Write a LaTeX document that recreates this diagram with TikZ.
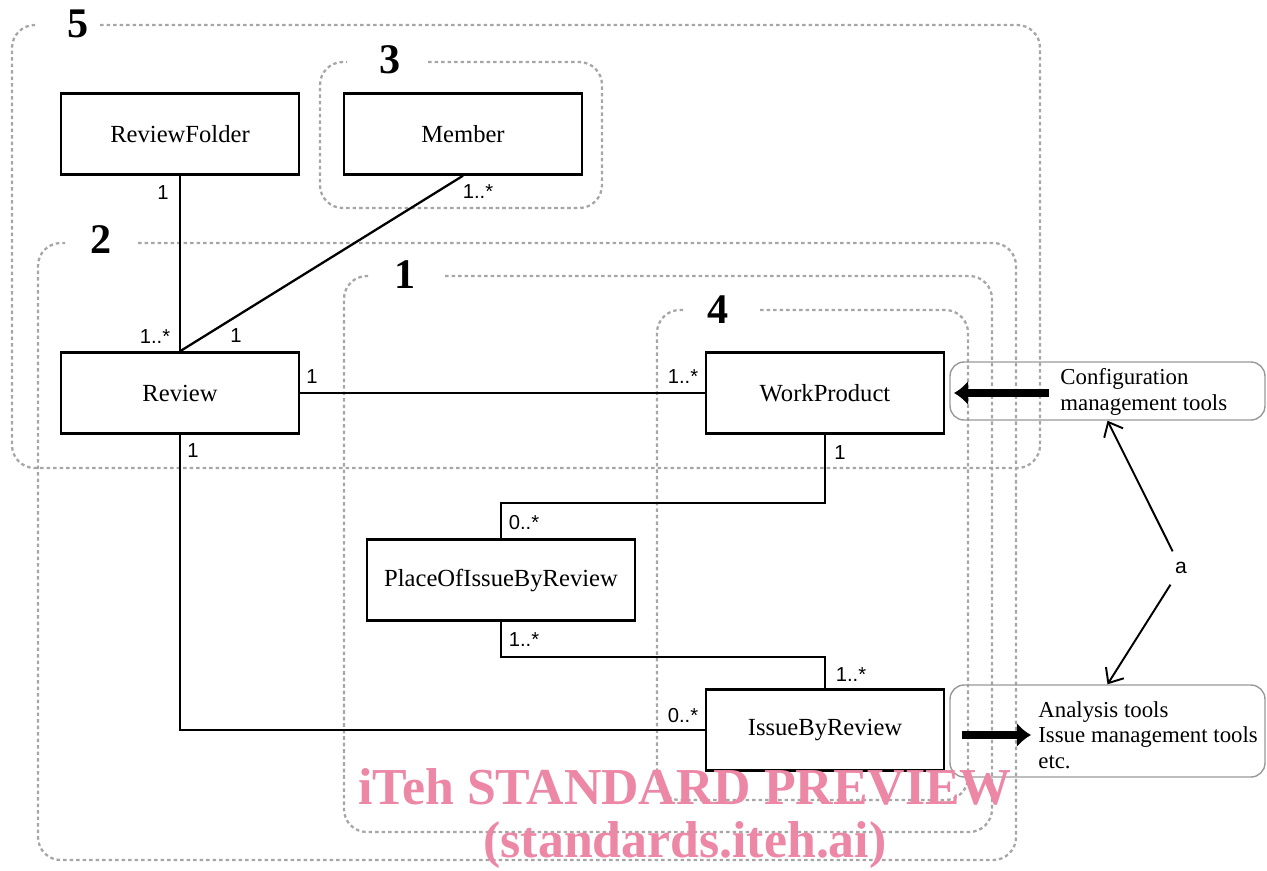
\documentclass[tikz,border=0pt]{standalone}
\usepackage{fontspec}
\setmainfont{Liberation Serif}
\setsansfont{Liberation Sans}
\usetikzlibrary{arrows.meta}

\definecolor{wmpink}{RGB}{236,135,166}

\tikzset{
	cls/.style={draw, line width=1.4pt, minimum width=4.76cm, minimum height=1.62cm, font=\fontsize{14}{16}\selectfont},
	mult/.style={font=\sffamily\fontsize{11.5}{13}\selectfont, inner sep=0pt},
	grp/.style={draw=gray!70, line width=1.3pt, dash pattern=on 2pt off 1.7pt, rounded corners=13pt},
	grpnum/.style={font=\bfseries\fontsize{24}{26}\selectfont},
	tool/.style={draw=gray!80, line width=0.8pt, rounded corners=8pt},
	tooltxt/.style={align=left, anchor=west, inner sep=0pt, font=\fontsize{13}{14.5}\selectfont},
	assoc/.style={line width=1.3pt},
	feed/.style={line width=4.4pt, -{Latex[length=8pt,width=14pt]}},
}

\begin{document}
\begin{tikzpicture}[x=0.02cm, y=-0.02cm]
	\useasboundingbox (0,0) rectangle (1267,870);
	
	% groups
	\draw[grp] (100,25) -- (1040,25) -- (1040,468) -- (12,468) -- (12,25) -- (35,25);
	\node[grpnum] (g5) at (78,24) {5};
	\draw[grp] (428,62) -- (602,62) -- (602,208) -- (320,208) -- (320,62) -- (347,62);
	\node[grpnum] (g3) at (390,60) {3};
	\draw[grp] (138,243) -- (1016,243) -- (1016,860) -- (38,860) -- (38,243) -- (65,243);
	\node[grpnum] (g2) at (101,240) {2};
	\draw[grp] (445,276) -- (992,276) -- (992,832) -- (344,832) -- (344,276) -- (368,276);
	\node[grpnum] (g1) at (405,275) {1};
	\draw[grp] (760,310) -- (968,310) -- (968,800) -- (657,800) -- (657,310) -- (683,310);
	\node[grpnum] (g4) at (718,310) {4};
	
	% classes
	\node[cls] (rf) at (180,134) {ReviewFolder};
	\node[cls] (mem) at (463,134) {Member};
	\node[cls] (rev) at (180,393) {Review};
	\node[cls] (wp) at (825,393) {WorkProduct};
	\node[cls, minimum width=5.36cm] (poi) at (501,580) {PlaceOfIssueByReview};
	\node[cls] (ibr) at (825,730) {IssueByReview};
	
	% associations
	\draw[assoc] (rf) -- (rev);
	\draw[assoc] (mem.south) -- (rev.north);
	\draw[assoc] (rev) -- (wp);
	\draw[assoc] (rev.south) |- (ibr.west);
	\draw[assoc] (wp.south) -- ++(0,68) -| (poi.north);
	\draw[assoc] (poi.south) -- ++(0,35) -| (ibr.north);
	
	\node[mult] (m1) at (163,193) {1};
	\node[mult] (m2) at (155,337) {1..*};
	\node[mult] (m3) at (478,192) {1..*};
	\node[mult] (m4) at (236,336) {1};
	\node[mult] (m5) at (312,377) {1};
	\node[mult] (m6) at (683,377) {1..*};
	\node[mult] (m7) at (193,451) {1};
	\node[mult] (m8) at (683,716) {0..*};
	\node[mult] (m9) at (840,453) {1};
	\node[mult] (m10) at (524,523) {0..*};
	\node[mult] (m11) at (524,640) {1..*};
	\node[mult] (m12) at (851,675) {1..*};
	
	% tools
	\node[tool, minimum width=6.3cm, minimum height=1.16cm] (cfg) at (1107.5,391) {};
	\node[tooltxt] (cfgtxt) at (1060,392) {Configuration\\management tools};
	\node[tool, minimum width=6.3cm, minimum height=1.84cm] (ana) at (1107.5,731) {};
	\node[tooltxt] (anatxt) at (1038,735) {Analysis tools\\Issue management tools\\etc.};
	
	\coordinate (cfgout) at (1049,393);
	\coordinate (cfgtip) at (954,393);
	\draw[feed] (cfgout) -- (cfgtip);
	\coordinate (anaout) at (962,735);
	\coordinate (anatip) at (1031,735);
	\draw[feed] (anaout) -- (anatip);
	
	\node[font=\sffamily\fontsize{12}{14}\selectfont, inner sep=6pt] (a) at (1181,568) {a};
	\draw[line width=1.1pt, -{Straight Barb[length=7pt,width=12pt]}] (a) -- (cfg.south);
	\draw[line width=1.1pt, -{Straight Barb[length=7pt,width=12pt]}] (a) -- (ana.north);
	
	% watermark
	\node[text=wmpink, font=\bfseries\fontsize{29.5}{32}\selectfont] (wm1) at (685,787) {iTeh STANDARD PREVIEW};
	\node[text=wmpink, font=\bfseries\fontsize{29.5}{32}\selectfont] (wm2) at (685,845) {(standards.iteh.ai)};
\end{tikzpicture}
\end{document}
